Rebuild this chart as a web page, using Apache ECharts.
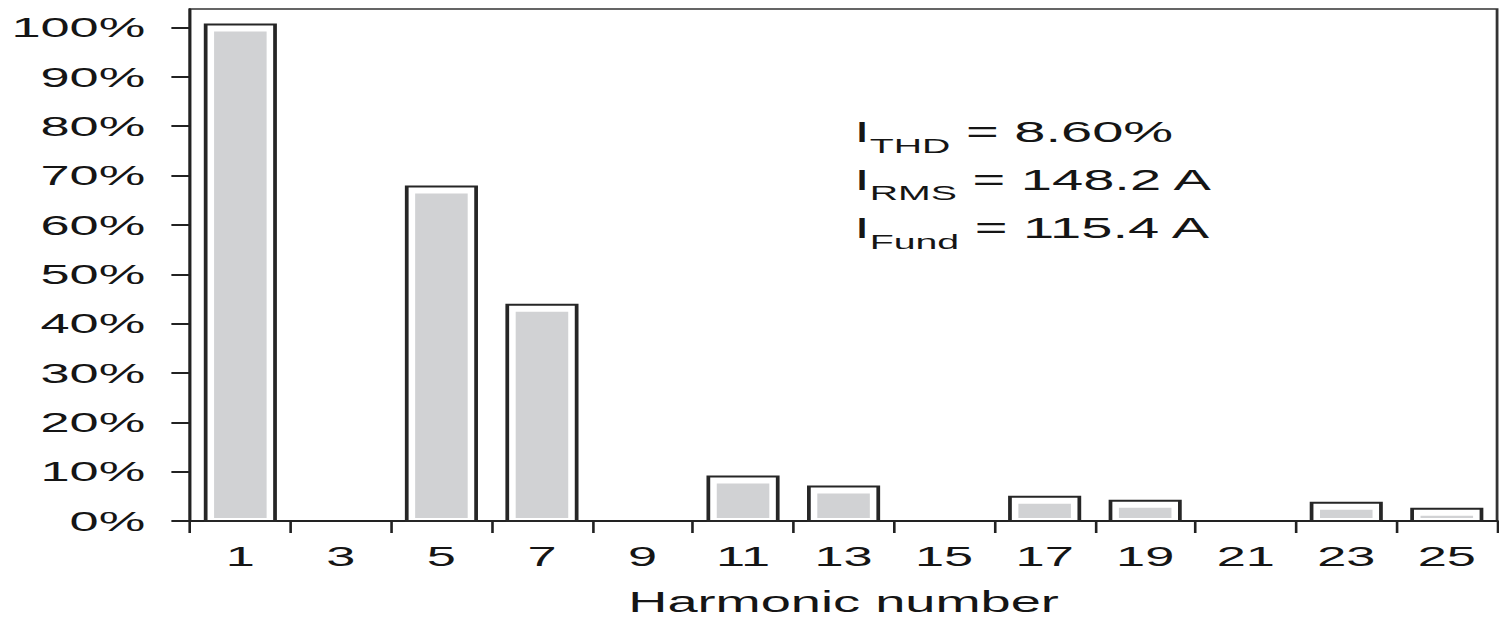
<!DOCTYPE html>
<html>
<head>
<meta charset="utf-8">
<title>Harmonic spectrum</title>
<script src="https://cdn.jsdelivr.net/npm/echarts@6/dist/echarts.min.js"></script>
<style>
  html, body { margin: 0; padding: 0; background: #fff; }
  #frame { position: absolute; left: 0; top: 0; width: 1499px; height: 618px; overflow: hidden; }
  /* the figure is laid out narrow and widened horizontally, like the printed plot */
  #chart { width: 802px; height: 618px; transform: scaleX(1.869); transform-origin: 0 0; }
</style>
</head>
<body>
<div id="frame"><div id="chart"></div></div>
<script>
// Harmonic orders on the x axis
const harmonics = ['1', '3', '5', '7', '9', '11', '13', '15', '17', '19', '21', '23', '25'];
// Current magnitude of each harmonic, % of the fundamental
const percentOfFundamental = [100.6, 0, 67.8, 43.8, 0, 9.0, 7.0, 0, 4.9, 4.1, 0, 3.7, 2.5];
// Labelled ticks on the y axis
const yTicks = [0, 10, 20, 30, 40, 50, 60, 70, 80, 90, 100];
// Summary readings printed in the plot
const readingNames = ['THD', 'RMS', 'Fund'];
const readingValues = ['8.60%', '148.2 A', '115.4 A'];

const FONT = '"Liberation Sans", Arial, Helvetica, sans-serif';
const INK = '#151515';

const chart = echarts.init(document.getElementById('chart'), null, { renderer: 'svg' });

function renderBar(params, api) {
  const v = api.value(1);
  if (!v) return null;
  const idx = api.value(0);
  const top = api.coord([idx, v]);
  const base = api.coord([idx, 0]);
  const w = api.size([1, 0])[0] * 0.69;
  const x = top[0] - w / 2;
  const h = base[1] - top[1];
  return {
    type: 'group',
    children: [
      { type: 'rect', shape: { x: x, y: top[1], width: w, height: h },
        style: { fill: '#ffffff', stroke: '#262626', lineWidth: 2 } },
      { type: 'rect', shape: { x: x + 4.5, y: top[1] + 7, width: w - 9, height: Math.max(h - 10, 0) },
        style: { fill: '#d1d2d4' } }
    ]
  };
}

const readingText = readingNames.map((n, i) => '{m|I}{s|' + n + '}{m| = ' + readingValues[i] + '}').join('\n');

chart.setOption({
  animation: false,
  backgroundColor: '#ffffff',
  textStyle: { fontFamily: FONT, color: INK },
  grid: {
    left: 101.7, right: 1, top: 9, bottom: 97,
    outerBoundsMode: 'none',
    containLabel: false,
    show: true, borderColor: '#333', borderWidth: 1.5, backgroundColor: 'transparent'
  },
  xAxis: {
    type: 'category',
    data: harmonics,
    boundaryGap: true,
    name: 'Harmonic number',
    nameLocation: 'middle',
    nameGap: 69,
    nameTextStyle: { fontFamily: FONT, fontSize: 29, lineHeight: 24, color: INK },
    axisLine: { show: true, lineStyle: { color: '#222', width: 2 } },
    axisTick: { show: true, alignWithLabel: false, length: 12, lineStyle: { color: '#222', width: 1.4 } },
    axisLabel: { fontFamily: FONT, fontSize: 28, color: INK, margin: 21 },
    splitLine: { show: false }
  },
  yAxis: {
    type: 'value',
    min: 0,
    max: 103.75,
    interval: 10,
    axisLine: { show: true, lineStyle: { color: '#222', width: 1.4 } },
    axisTick: { show: true, length: 10, customValues: yTicks, lineStyle: { color: '#222', width: 2 } },
    axisLabel: { fontFamily: FONT, fontSize: 28, color: INK, margin: 24,
                 customValues: yTicks, formatter: '{value}%' },
    splitLine: { show: false }
  },
  graphic: [{
    type: 'text',
    left: 457,
    top: 117,
    style: {
      text: readingText,
      fill: INK,
      font: '30px ' + FONT,
      rich: {
        m: { fontFamily: FONT, fontSize: 30, lineHeight: 48, fill: INK, verticalAlign: 'middle' },
        s: { fontFamily: FONT, fontSize: 21, lineHeight: 32, fill: INK, verticalAlign: 'bottom' }
      }
    }
  }],
  series: [{
    type: 'custom',
    renderItem: renderBar,
    encode: { x: 0, y: 1 },
    data: percentOfFundamental.map((v, i) => [i, v])
  }]
});
</script>
</body>
</html>
